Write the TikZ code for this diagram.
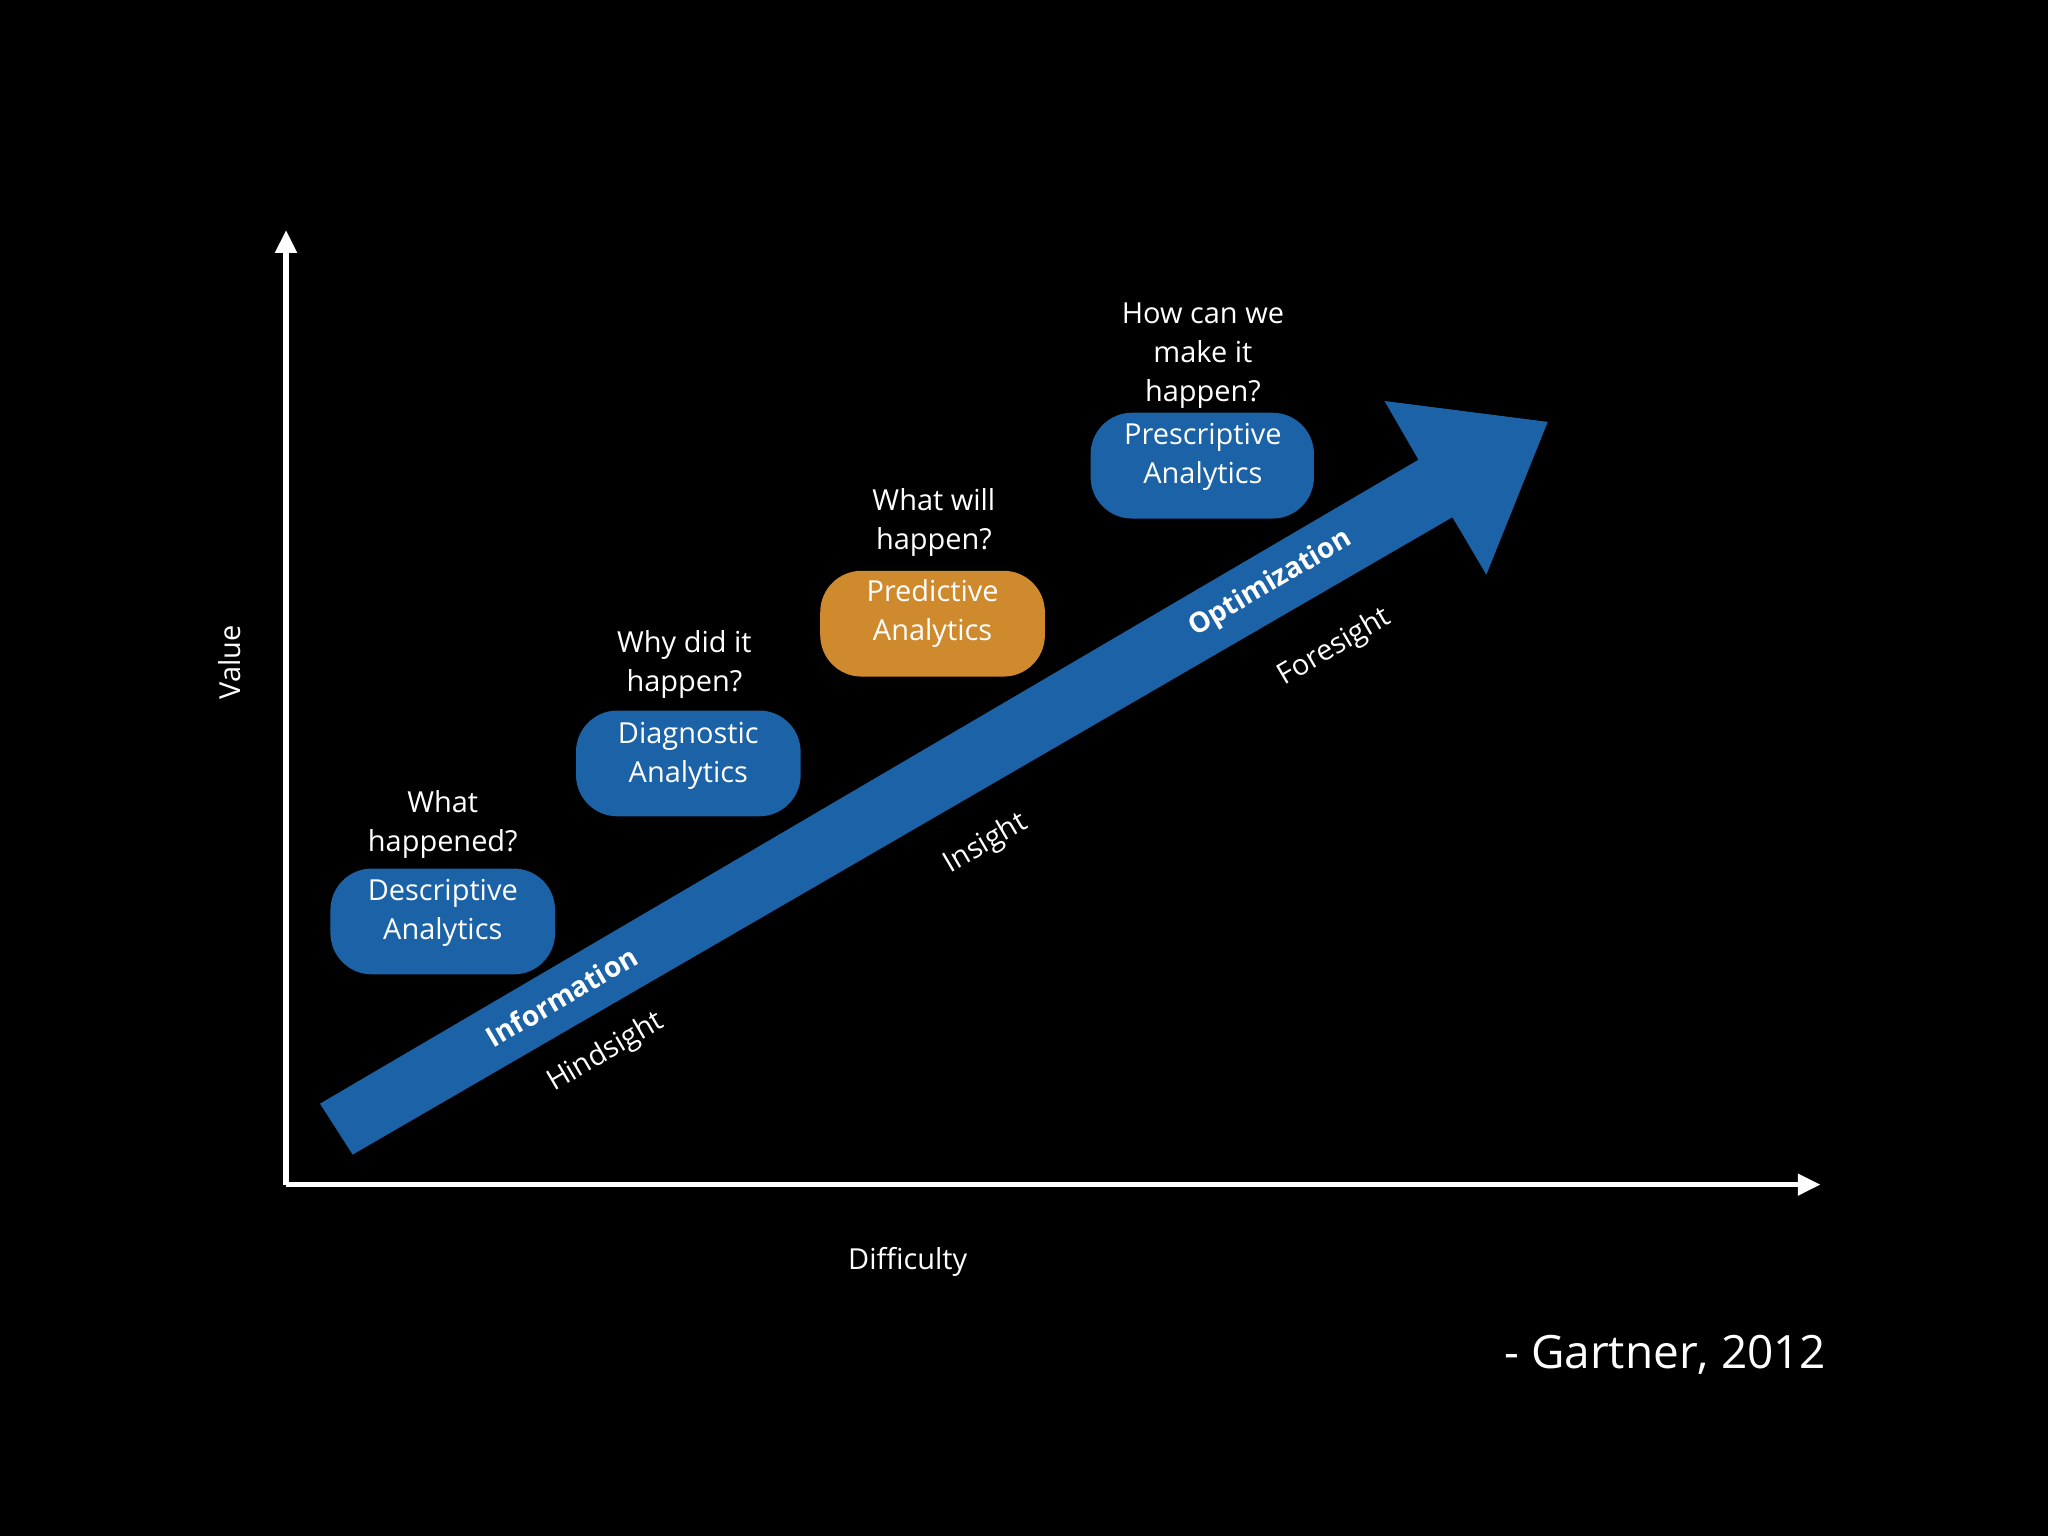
\documentclass[tikz,border=0pt]{standalone}
\usepackage{fontspec}
\setmainfont{Open Sans}
\usetikzlibrary{arrows.meta}
\definecolor{bblue}{HTML}{1C62A6}
\definecolor{aorange}{HTML}{D08A2E}
\begin{document}
\begin{tikzpicture}[x=0.01cm,y=-0.01cm,
  q/.style={text=white,align=center,font=\fontsize{6.3}{8.5}\selectfont,inner sep=1pt},
  lab/.style={text=white,font=\fontsize{6.3}{7}\selectfont,rotate=30.4,inner sep=0pt},
  labb/.style={lab,font=\bfseries\fontsize{6.1}{7}\selectfont}]
\fill[black] (0,0) rectangle (1568,1176);
\coordinate (o) at (219,907);
\coordinate (yt) at (219,176);
\coordinate (xt) at (1394,907);
\draw[white,line width=1.2pt,-{Triangle[length=5pt,width=4.5pt]}] (o) -- (yt);
\draw[white,line width=1.2pt,-{Triangle[length=5pt,width=4.5pt]}] (o) -- (xt);
\node[q,rotate=90] (val) at (176,507) {Value};
\node[q] (diff) at (695,966) {Difficulty};
\node[text=white,font=\fontsize{10}{12}\selectfont] (gart) at (1275,1037) {- Gartner, 2012};
\fill[bblue] (245,845) -- (1086,352) -- (1060,307) -- (1185,323) -- (1138,440) -- (1112,396) -- (270,884) -- cycle;
\fill[bblue,rounded corners=9pt] (253,665) rectangle (425,746);
\fill[bblue,rounded corners=9pt] (441,544) rectangle (613,625);
\fill[aorange,rounded corners=9pt] (628,437) rectangle (800,518);
\fill[bblue,rounded corners=9pt] (835,316) rectangle (1006,397);
\node[q] (b1) at (339,699) {Descriptive\\Analytics};
\node[q] (b2) at (527,579) {Diagnostic\\Analytics};
\node[q] (b3) at (714,470) {Predictive\\Analytics};
\node[q] (b4) at (921,350) {Prescriptive\\Analytics};
\node[q] (q1) at (339,631) {What\\happened?};
\node[q] (q2) at (524,509) {Why did it\\happen?};
\node[q] (q3) at (715,400) {What will\\happen?};
\node[q] (q4) at (921,272) {How can we\\make it\\happen?};
\node[labb] (i1) at (430,763) {Information};
\node[labb] (i2) at (973,447) {Optimization};
\node[lab] (h1) at (464,806) {Hindsight};
\node[lab] (h2) at (755,646) {Insight};
\node[lab] (h3) at (1022,496) {Foresight};
\end{tikzpicture}
\end{document}
